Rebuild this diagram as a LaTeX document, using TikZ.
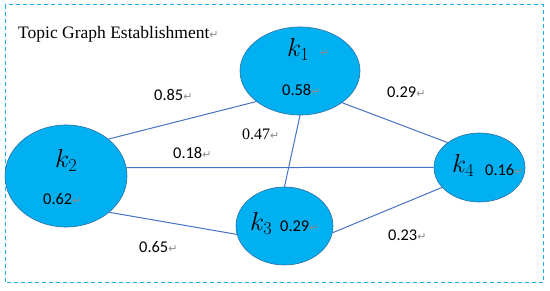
\RequirePackage{fix-cm}
\documentclass[tikz,border=0pt]{standalone}
\usepackage{fontspec}
\setmainfont{Liberation Serif}
\newfontfamily\sansnum{Carlito}
\newfontfamily\symfont{DejaVu Sans}
\usetikzlibrary{shapes.geometric}
\definecolor{cnodo}{HTML}{00B0F0}
\definecolor{cnodob}{HTML}{2E6DA4}
\definecolor{carista}{HTML}{4472C4}
\definecolor{cmarco}{HTML}{1CB0E6}
\definecolor{cmarca}{HTML}{8C8C8C}
\newcommand{\retmark}{{\symfont\color{cmarca}\fontsize{11}{11}\selectfont ↵}}
\tikzset{
  nodo/.style={ellipse,draw=cnodob,fill=cnodo,line width=0.6pt,inner sep=0pt},
  arista/.style={draw=carista,line width=1pt},
  peso/.style={font=\sansnum\fontsize{16.4}{18}\selectfont,anchor=base west,inner sep=0pt},
  pesos/.style={peso,font=\rmfamily\fontsize{16}{18}\selectfont},
  etk/.style={font=\fontsize{26}{30}\selectfont,anchor=base west,inner sep=0pt},
  marco/.style={draw=cmarco,line width=1pt,dash pattern=on 4pt off 3pt},
  tit/.style={font=\fontsize{17.5}{20}\selectfont,anchor=base west,inner sep=0pt},
}
\begin{document}
\begin{tikzpicture}[x=1pt,y=-1pt]
\useasboundingbox (0,0) rectangle (550,291);
\draw[marco] (5,5) rectangle (543,283);

\node[tit] (titulo) at (18,39) {Topic Graph Establishment\retmark};

\node[nodo,minimum width=120pt,minimum height=88pt] (k1) at (300,71) {};
\node[nodo,minimum width=122pt,minimum height=102pt] (k2) at (66,176) {};
\node[nodo,minimum width=97pt,minimum height=78pt] (k3) at (284.5,226) {};
\node[nodo,minimum width=91pt,minimum height=69pt] (k4) at (479.5,167.5) {};

\draw[arista] (k1.215) -- (k2.41);
\draw[arista] (k1.323) -- (k4.142);
\draw[arista] (k1.270) -- (k3.90);
\draw[arista] (k2.8) -- (k4.west);
\draw[arista] (k2.320) -- (k3.190);
\draw[arista] (k3.352) -- (k4.208);

% etiquetas de los nodos
\node[etk] (ek1) at (287,57) {$k_1$\hspace{11pt}\retmark};
\node[etk] (ek2) at (55,168) {$k_2$};
\node[etk] (ek3) at (250,231) {$k_3$};
\node[etk] (ek4) at (452,173) {$k_4$};
\node[peso] (pk1) at (282,96) {0.58\retmark};
\node[peso] (pk2) at (43,205) {0.62\retmark};
\node[peso] (pk3) at (280,232) {0.29\retmark};
\node[peso] (pk4) at (485,176) {0.16\retmark};

% pesos de las aristas
\node[peso] (p12) at (154,101) {0.85\retmark};
\node[peso] (p14) at (387,98) {0.29\retmark};
\node[pesos] (p13) at (242,140) {0.47\retmark};
\node[peso] (p24) at (173,159) {0.18\retmark};
\node[peso] (p23) at (139,253) {0.65\retmark};
\node[peso] (p34) at (388,241) {0.23\retmark};
\end{tikzpicture}
\end{document}
